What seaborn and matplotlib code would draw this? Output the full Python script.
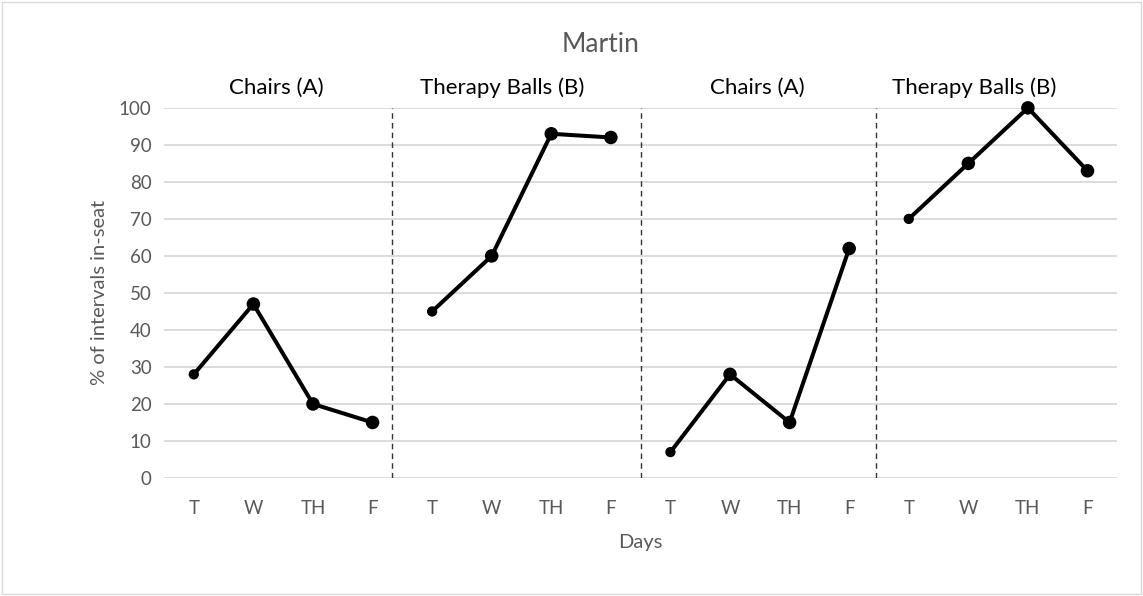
import matplotlib
matplotlib.use("Agg")
import matplotlib.pyplot as plt
import seaborn as sns
import pandas as pd
from matplotlib.patches import Rectangle

# data
days = ["T", "W", "TH", "F"] * 4
phases = ["Chairs (A)", "Therapy Balls (B)", "Chairs (A) ", "Therapy Balls (B) "]
phase_of_day = [p for p in phases for _ in range(4)]
in_seat = [28, 47, 20, 15,
           45, 60, 93, 92,
           7, 28, 15, 62,
           70, 85, 100, 83]

df = pd.DataFrame({
    "pos": range(len(days)),
    "day": days,
    "phase": phase_of_day,
    "value": in_seat,
})
df["first"] = df.groupby("phase").cumcount() == 0

sns.set_theme(style="white")
plt.rcParams["font.family"] = ["Lato", "DejaVu Sans"]

GRAY = "#595959"

fig = plt.figure(figsize=(11.43, 5.96), dpi=100)
ax = fig.add_axes([0.1435, 0.198, 0.834, 0.621])

sns.lineplot(data=df, x="pos", y="value", units="phase", estimator=None,
             color="black", lw=2.9, ax=ax, clip_on=False, zorder=3)
sns.scatterplot(data=df[~df["first"]], x="pos", y="value", color="black",
                s=95, edgecolor="none", ax=ax, clip_on=False, zorder=4)
sns.scatterplot(data=df[df["first"]], x="pos", y="value", color="black",
                s=55, edgecolor="none", ax=ax, clip_on=False, zorder=4)

ax.set_xlim(-0.5, len(days) - 0.5)
ax.set_ylim(0, 100)
ax.set_yticks(range(0, 101, 10))
ax.set_xticks(df["pos"])
ax.set_xticklabels(df["day"])
ax.tick_params(axis="both", length=0, labelsize=13.5, labelcolor=GRAY)
ax.tick_params(axis="x", pad=16)
ax.tick_params(axis="y", pad=9)
ax.yaxis.grid(True, color="#d9d9d9", lw=1.3)
ax.set_axisbelow(True)
for s in ax.spines.values():
    s.set_visible(False)

# phase change lines between groups (the first one sits a little left in the original)
last_pos = df.groupby("phase", sort=False)["pos"].max().values[:-1]
line_shift = [-0.17, 0.0, -0.05]
for x, dx in zip(last_pos, line_shift):
    ax.axvline(x + 0.5 + dx, color="#333333", lw=1.0, ls=(0, (4, 3)), zorder=2)

# phase labels
label_x = [1.39, 5.18, 9.46, 13.1]
for x, name in zip(label_x, phases):
    ax.text(x, 105.5, name.strip(), ha="center", va="center", fontsize=16,
            color="black")

ax.set_xlabel("Days", fontsize=14.5, color=GRAY, labelpad=12)
ax.set_ylabel("% of intervals in-seat", fontsize=14.5, color=GRAY, labelpad=8)

fig.text(0.525, 0.925, "Martin", ha="center", va="center", fontsize=19,
         color=GRAY)

fig.patches.append(Rectangle((0.002, 0.003), 0.996, 0.994,
                             transform=fig.transFigure, fill=False,
                             edgecolor="#d9d9d9", lw=1.0))

fig.savefig("out.png", dpi=100)
